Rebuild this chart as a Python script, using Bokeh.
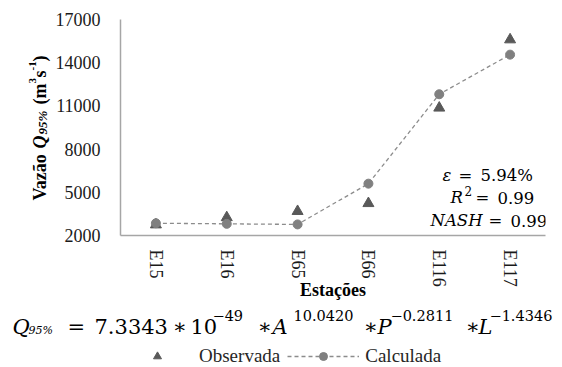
from bokeh.plotting import figure
from bokeh.layouts import column, row
from bokeh.models import (Label, Legend, LegendItem, FactorRange, Range1d,
                          FixedTicker, ColumnDataSource)
from bokeh.embed import file_html
from bokeh.resources import INLINE
import math

# ---- data ----
stations = ["E15", "E16", "E65", "E66", "E116", "E117"]
observada = [2750, 3250, 3680, 4230, 10860, 15600]
calculada = [2850, 2810, 2770, 5600, 11810, 14560]
y_ticks = [2000, 5000, 8000, 11000, 14000, 17000]
y_min, y_max = 2000, 17000

SERIF = "Liberation Serif"
MATH = "DejaVu Serif"
AX = "#a6a6a6"
TRI_C, CIRC_C, LINE_C = "#595959", "#808080", "#8c8c8c"

W, H = 562, 367
LEFT_W = 52          # width of the strip holding the y-axis title
TOP_H = 302          # height of the chart row
FRAME_L, FRAME_R, FRAME_T, FRAME_B = 115, 545, 19, 235

src = ColumnDataSource(dict(st=stations, obs=observada, calc=calculada))

# ---------------- main chart ----------------
p = figure(width=W - LEFT_W, height=TOP_H,
           x_range=FactorRange(factors=stations, range_padding=0),
           y_range=Range1d(y_min, y_max),
           output_backend="svg", toolbar_location=None,
           min_border_left=FRAME_L - LEFT_W, min_border_right=W - FRAME_R,
           min_border_top=FRAME_T, min_border_bottom=TOP_H - FRAME_B)
p.outline_line_color = None
p.xgrid.visible = False
p.ygrid.visible = False

for ax in (p.xaxis[0], p.yaxis[0]):
    ax.axis_line_color = AX
    ax.axis_line_width = 1.5
    ax.major_tick_line_color = None
    ax.minor_tick_line_color = None
    ax.major_label_text_font = SERIF
    ax.major_label_text_font_size = "18px"
    ax.major_label_text_color = "#1a1a1a"

p.yaxis.ticker = FixedTicker(ticks=y_ticks)
p.yaxis.major_label_standoff = 14
p.xaxis.major_label_orientation = "vertical"
p.xaxis.major_label_standoff = 8
p.xaxis.axis_label = "Estações"
p.xaxis.axis_label_text_font = SERIF
p.xaxis.axis_label_text_font_style = "bold"
p.xaxis.axis_label_text_font_size = "18px"
p.xaxis.axis_label_text_color = "black"
p.xaxis.axis_label_standoff = -10

line_style = dict(line_color=LINE_C, line_width=1.3, line_dash="4 3")
tri_style = dict(marker="triangle", size=11, fill_color=TRI_C, line_color=TRI_C)
circ_style = dict(marker="circle", size=9, fill_color=CIRC_C, line_color=CIRC_C)

p.line("st", "calc", source=src, **line_style)
p.scatter("st", "obs", source=src, **tri_style)
p.scatter("st", "calc", source=src, **circ_style)


def put(fig, ox, oy, X, Y, text, size, font=MATH, style="normal", angle=0.0,
        align="left", baseline="alphabetic", color="black"):
    """X, Y: picture position; (ox, oy): picture position of the frame's bottom-left."""
    fig.add_layout(Label(x=X - ox, y=oy - Y, x_units="screen", y_units="screen",
                         text=text, text_font=font, text_font_size=f"{size}px",
                         text_font_style=style, angle=angle, text_align=align,
                         text_baseline=baseline, text_color=color))


# statistics inside the plot
def st(X, Y, text, size, **kw):
    put(p, FRAME_L, FRAME_B, X, Y, text, size, **kw)


SS = 16.5
st(437, 175, "ε", SS, style="italic")
st(453, 175, "=", SS)
st(475, 175, "5.94%", SS)
st(445, 197, "R", SS, style="italic")
st(459, 190, "2", 12)
st(470, 197, "=", SS)
st(492, 197, "0.99", SS)
st(425, 220, "NASH", SS, style="italic")
st(483, 220, "=", SS)
st(505, 220, "0.99", SS)

# ---------------- y-axis title strip ----------------
# (its frame is aligned with the main chart's frame inside the row)
pl = figure(width=LEFT_W, height=TOP_H, output_backend="svg",
            toolbar_location=None, x_axis_type=None, y_axis_type=None,
            min_border=0, x_range=Range1d(0, 1), y_range=Range1d(0, 1))
pl.outline_line_color = None
pl.grid.visible = False


def yl(X, Y, text, size, style="bold"):
    put(pl, 0, FRAME_B, X, Y, text, size, font=SERIF, style=style,
        angle=math.pi / 2)


yl(39, 200, "Vazão", 18)
yl(39, 148, "Q", 18, style="bold italic")
yl(42, 134, "95%", 13, style="bold italic")
yl(39, 104, "(m", 18)
yl(32, 83, "3", 11)
yl(39, 77, "s", 18)
yl(32, 70, "-1", 11)
yl(39, 61, ")", 18)

# ---------------- equation + legend strip ----------------
BOT_H = H - TOP_H
pb = figure(width=W, height=BOT_H, output_backend="svg",
            toolbar_location=None, x_axis_type=None, y_axis_type=None,
            min_border=0, x_range=FactorRange(factors=stations),
            y_range=Range1d(y_min, y_max))
pb.outline_line_color = None
pb.grid.visible = False


def eq(X, Y, text, size, **kw):
    put(pb, 0, H, X, Y, text, size, **kw)


BL, SUP, SUB = 326, 315, 330
eq(12, BL, "Q", 21, style="italic")
eq(28, SUB, "95%", 11, style="italic")
eq(67, BL, "=", 21)
eq(94, BL, "7.3343", 21)
eq(172, BL, "∗", 21)
eq(190, BL, "10", 21)
eq(212, SUP, "−49", 14.5)
eq(257, BL, "∗", 21)
eq(272, BL, "A", 21, style="italic")
eq(293, SUP, "10.0420", 14.5)
eq(363, BL, "∗", 21)
eq(377, BL, "P", 21, style="italic")
eq(390, SUP, "−0.2811", 14.5)
eq(465, BL, "∗", 21)
eq(478, BL, "L", 21, style="italic")
eq(489, SUP, "−1.4346", 14.5)

# legend: hidden copies of the series give the legend its symbols
lt = pb.scatter("st", "obs", source=src, visible=False, **tri_style)
ll = pb.line("st", "calc", source=src, visible=False, **line_style)
lc = pb.scatter("st", "calc", source=src, visible=False, **circ_style)
legend = Legend(items=[LegendItem(label="Observada", renderers=[lt]),
                       LegendItem(label="Calculada", renderers=[ll, lc])],
                orientation="horizontal", location=(121, 0),
                glyph_width=72, glyph_height=20, label_height=20,
                label_standoff=6, spacing=7, padding=0, margin=0,
                border_line_color=None, background_fill_alpha=0,
                label_text_font=SERIF, label_text_font_size="19px",
                label_text_color="#262626")
pb.add_layout(legend)

layout = column(row(pl, p), pb)
open("out.html", "w").write(file_html(layout, INLINE))
